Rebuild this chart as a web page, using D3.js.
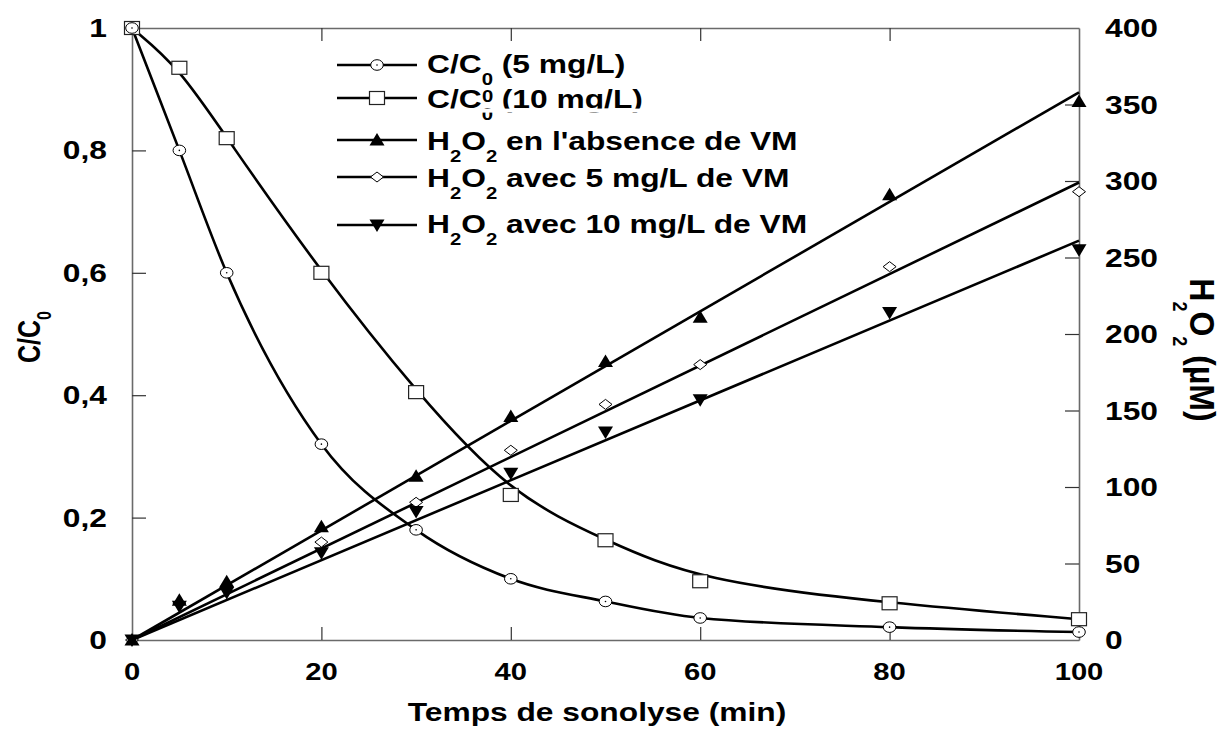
<!DOCTYPE html>
<html>
<head>
<meta charset="utf-8">
<script src="https://cdn.jsdelivr.net/npm/d3@7"></script>
<style>
  html, body { margin: 0; padding: 0; background: #fff; }
  svg { display: block; }
  text { font-family: "Liberation Sans", Arial, sans-serif; font-weight: bold; fill: #000; }
</style>
</head>
<body>
<svg id="chart" width="1224" height="731"></svg>
<script>
// ---------- data ----------
const time = [0, 5, 10, 20, 30, 40, 50, 60, 80, 100];
const cRatio5 = [1, 0.80, 0.60, 0.32, 0.18, 0.10, 0.063, 0.036, 0.021, 0.013];
const cRatio10 = [1, 0.935, 0.82, 0.60, 0.405, 0.237, 0.163, 0.096, 0.06, 0.034];
const h2o2None = [0, 26, 38, 74, 107, 146, 182, 211, 291, 352];
const h2o2VM5 = [0, 24, 35, 64, 90, 124, 154, 180, 244, 293];
const h2o2VM10 = [0, 22, 31, 57, 84, 109, 136, 157, 214, 255];
// linear fits (end points)
const fitTime = [0, 100];
const fitNone = [0, 358];
const fitVM5 = [0, 299];
const fitVM10 = [0, 261];

const xTicks = [0, 20, 40, 60, 80, 100];
const yLeftTicks = [0, 0.2, 0.4, 0.6, 0.8, 1];
const yLeftLabels = ["0", "0,2", "0,4", "0,6", "0,8", "1"];
const yRightTicks = [0, 50, 100, 150, 200, 250, 300, 350, 400];

const legendRows = [
  { parts: [["C/C"], ["0", 1], [" (5 mg/L)"]], marker: "circle" },
  { parts: [["C/C"], ["0", 1], [" (10 mg/L)"]], marker: "square" },
  { parts: [["H"], ["2", 1], ["O"], ["2", 1], [" en l'absence de VM"]], marker: "up" },
  { parts: [["H"], ["2", 1], ["O"], ["2", 1], [" avec 5 mg/L de VM"]], marker: "diamond" },
  { parts: [["H"], ["2", 1], ["O"], ["2", 1], [" avec 10 mg/L de VM"]], marker: "down" }
];

// ---------- setup ----------
const SX = 1.27; // horizontal stretch of the original picture's text
const svg = d3.select("#chart");
const x = d3.scaleLinear().domain([0, 100]).range([132, 1079]);
const yL = d3.scaleLinear().domain([0, 1]).range([640, 28]);
const yR = d3.scaleLinear().domain([0, 400]).range([640, 28]);

// ---------- axes / frame ----------
const axisColor = "#6a6a6a";
function styleAxis(g) {
  g.selectAll("text").remove();
  g.selectAll("path.domain").attr("stroke", axisColor).attr("stroke-width", 1.6);
  g.selectAll(".tick line").attr("stroke", "#333").attr("stroke-width", 1.2);
}
svg.append("g").attr("transform", "translate(0,640)")
  .call(d3.axisBottom(x).tickValues(xTicks.slice(1, -1)).tickSize(-13).tickSizeOuter(0)).call(styleAxis);
svg.append("g").attr("transform", "translate(0,28)")
  .call(d3.axisTop(x).tickValues(xTicks.slice(1, -1)).tickSize(-13).tickSizeOuter(0)).call(styleAxis);
svg.append("g").attr("transform", "translate(132,0)")
  .call(d3.axisLeft(yL).tickValues(yLeftTicks.slice(1, -1)).tickSize(-14).tickSizeOuter(0)).call(styleAxis);
svg.append("g").attr("transform", "translate(1079,0)")
  .call(d3.axisRight(yR).tickValues(yRightTicks.slice(1, -1)).tickSize(-14).tickSizeOuter(0)).call(styleAxis);

// tick labels
svg.append("g").selectAll("text").data(xTicks).join("text")
  .attr("transform", d => `translate(${x(d)},680) scale(${SX},1)`)
  .attr("text-anchor", "middle").attr("font-size", 23).text(d => d);
svg.append("g").selectAll("text").data(yLeftTicks).join("text")
  .attr("transform", d => `translate(107,${yL(d) + 9}) scale(${SX},1)`)
  .attr("text-anchor", "end").attr("font-size", 25).text((d, i) => yLeftLabels[i]);
svg.append("g").selectAll("text").data(yRightTicks).join("text")
  .attr("transform", d => `translate(1105,${yR(d) + 9}) scale(${SX},1)`)
  .attr("text-anchor", "start").attr("font-size", 25).text(d => d);

// axis titles
svg.append("text")
  .attr("transform", `translate(597,721) scale(${SX},1)`)
  .attr("text-anchor", "middle").attr("font-size", 25)
  .text("Temps de sonolyse (min)");

const lt = svg.append("text")
  .attr("transform", `translate(40,337) scale(${SX},1) rotate(-90)`)
  .attr("text-anchor", "middle").attr("font-size", 25);
lt.append("tspan").text("C/C");
lt.append("tspan").attr("dy", 9).attr("font-size", 16).text("0");

const rt = svg.append("text")
  .attr("transform", `translate(1190,350) scale(1.12,1) rotate(90)`)
  .attr("text-anchor", "middle").attr("font-size", 32);
rt.append("tspan").text("H");
rt.append("tspan").attr("dy", 15).attr("font-size", 18).text("2");
rt.append("tspan").attr("dy", -15).text("O");
rt.append("tspan").attr("dy", 15).attr("font-size", 18).text("2");
rt.append("tspan").attr("dy", -15).text(" (\u00B5M)");

// ---------- markers ----------
function drawMarker(g, type, cx, cy) {
  if (type === "circle") {
    g.append("ellipse").attr("cx", cx).attr("cy", cy).attr("rx", 6.3).attr("ry", 5.3)
      .attr("fill", "#fff").attr("stroke", "#000").attr("stroke-width", 1);
    g.append("circle").attr("cx", cx).attr("cy", cy).attr("r", 0.8).attr("fill", "#000");
  } else if (type === "square") {
    g.append("rect").attr("x", cx - 7.5).attr("y", cy - 6.5).attr("width", 15).attr("height", 13)
      .attr("fill", "#fff").attr("stroke", "#222").attr("stroke-width", 1.2);
  } else if (type === "up") {
    g.append("path").attr("d", `M${cx},${cy - 7}L${cx + 7.5},${cy + 5.5}L${cx - 7.5},${cy + 5.5}Z`)
      .attr("fill", "#000");
  } else if (type === "down") {
    g.append("path").attr("d", `M${cx},${cy + 7}L${cx + 7.5},${cy - 5.5}L${cx - 7.5},${cy - 5.5}Z`)
      .attr("fill", "#000");
  } else if (type === "diamond") {
    g.append("path").attr("d", `M${cx},${cy - 5}L${cx + 6.5},${cy}L${cx},${cy + 5}L${cx - 6.5},${cy}Z`)
      .attr("fill", "#fff").attr("stroke", "#000").attr("stroke-width", 1);
  }
}

// ---------- curves ----------
const lineW = 2.6;
const curve5 = d3.line().x(d => x(d[0])).y(d => yL(d[1])).curve(d3.curveMonotoneX);
const curve10 = d3.line().x(d => x(d[0])).y(d => yL(d[1])).curve(d3.curveBasis);
const lineR = d3.line().x(d => x(d[0])).y(d => yR(d[1]));

const plot = svg.append("g");
plot.append("path").datum(time.map((t, i) => [t, cRatio5[i]])).attr("d", curve5)
  .attr("fill", "none").attr("stroke", "#000").attr("stroke-width", lineW);
plot.append("path").datum(time.map((t, i) => [t, cRatio10[i]])).attr("d", curve10)
  .attr("fill", "none").attr("stroke", "#000").attr("stroke-width", lineW);
[fitNone, fitVM5, fitVM10].forEach(vals => {
  plot.append("path").datum(fitTime.map((t, i) => [t, vals[i]])).attr("d", lineR)
    .attr("fill", "none").attr("stroke", "#000").attr("stroke-width", lineW);
});

const mk = svg.append("g");
time.forEach((t, i) => drawMarker(mk, "diamond", x(t), yR(h2o2VM5[i])));
time.forEach((t, i) => drawMarker(mk, "square", x(t), yL(cRatio10[i])));
time.forEach((t, i) => drawMarker(mk, "circle", x(t), yL(cRatio5[i])));
time.forEach((t, i) => drawMarker(mk, "down", x(t), yR(h2o2VM10[i])));
time.forEach((t, i) => drawMarker(mk, "up", x(t), yR(h2o2None[i])));

// ---------- legend ----------
const legendLineY = [65, 98, 140, 177, 225];
const legendBase = [73, 108, 150, 187, 233];
const lg = svg.append("g");
legendRows.forEach((row, r) => {
  lg.append("line").attr("x1", 337).attr("x2", 417)
    .attr("y1", legendLineY[r]).attr("y2", legendLineY[r])
    .attr("stroke", "#000").attr("stroke-width", lineW);
  drawMarker(lg, row.marker, 377, legendLineY[r]);
  const tx = lg.append("text")
    .attr("transform", `translate(427,${legendBase[r]}) scale(${SX},1)`)
    .attr("font-size", 25);
  let shifted = false;
  row.parts.forEach(p => {
    const ts = tx.append("tspan").text(p[0]);
    if (p[1]) { ts.attr("dy", 12).attr("font-size", 16); shifted = true; }
    else if (shifted) { ts.attr("dy", -12); shifted = false; }
  });
  if (r === 1) {
    // stray raised zero and white strip seen in the original legend
    lg.append("text").attr("transform", `translate(482,102) scale(${SX},1)`)
      .attr("font-size", 16).text("0");
    lg.append("rect").attr("x", 478).attr("y", 108.6).attr("width", 175).attr("height", 4)
      .attr("fill", "#fff");
  }
});
</script>
</body>
</html>
